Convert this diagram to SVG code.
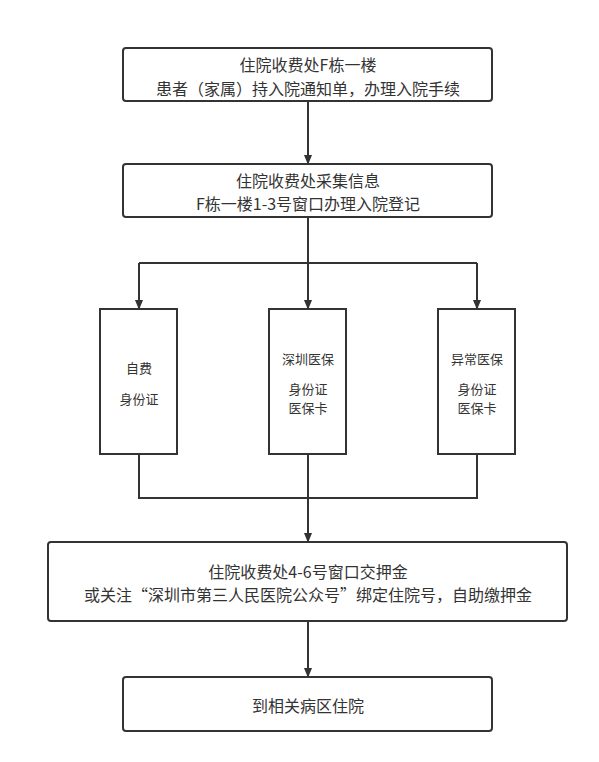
<svg xmlns="http://www.w3.org/2000/svg" width="599" height="762" viewBox="0 0 599 762">
<style>
.box{fill:#fff;stroke:#333;stroke-width:2}
.ln{fill:none;stroke:#333;stroke-width:2}
text{font-family:"Noto Sans CJK SC","Noto Sans",sans-serif;fill:#333;text-anchor:middle;dominant-baseline:central}
.t15{font-size:16px}
.t13{font-size:13px}
</style>
<defs>
<marker id="ah" markerWidth="10" markerHeight="12" refX="10" refY="5" orient="auto" markerUnits="userSpaceOnUse" viewBox="0 0 12 10">
<path d="M0,0 L12,5 L0,10 Z" fill="#333"/>
</marker>
</defs>
<rect width="599" height="762" fill="#fff"/>
<g id="connectors">
<path class="ln" d="M308,101 V163" marker-end="url(#ah)"/>
<path class="ln" d="M308,217 V263"/>
<path class="ln" d="M139,263 H477"/>
<path class="ln" d="M139,263 V308" marker-end="url(#ah)"/>
<path class="ln" d="M308,263 V308" marker-end="url(#ah)"/>
<path class="ln" d="M477,263 V308" marker-end="url(#ah)"/>
<path class="ln" d="M139,454 V498 H477 V454"/>
<path class="ln" d="M308,454 V541" marker-end="url(#ah)"/>
<path class="ln" d="M308,621 V676" marker-end="url(#ah)"/>
</g>
<g id="n1">
<rect class="box" x="123" y="48" width="369" height="53" rx="3"/>
<text class="t15" x="308" y="64">住院收费处F栋一楼</text>
<text class="t15" x="308" y="87.5">患者（家属）持入院通知单，办理入院手续</text>
</g>
<g id="n2">
<rect class="box" x="123" y="164" width="369" height="53" rx="3"/>
<text class="t15" x="308" y="179.5">住院收费处采集信息</text>
<text class="t15" x="308" y="203">F栋一楼1-3号窗口办理入院登记</text>
</g>
<g id="n3">
<rect class="box" x="100" y="309" width="77" height="145"/>
<text class="t13" x="139" y="367">自费</text>
<text class="t13" x="139" y="398">身份证</text>
</g>
<g id="n4">
<rect class="box" x="269" y="309" width="77" height="145"/>
<text class="t13" x="308" y="358">深圳医保</text>
<text class="t13" x="308" y="388.5">身份证</text>
<text class="t13" x="308" y="407.5">医保卡</text>
</g>
<g id="n5">
<rect class="box" x="438" y="309" width="77" height="145"/>
<text class="t13" x="477" y="358">异常医保</text>
<text class="t13" x="477" y="388.5">身份证</text>
<text class="t13" x="477" y="407.5">医保卡</text>
</g>
<g id="n6">
<rect class="box" x="48" y="542" width="519" height="79" rx="3"/>
<text class="t15" x="308" y="570.5">住院收费处4-6号窗口交押金</text>
<text class="t15" x="308" y="594">或关注“深圳市第三人民医院公众号”绑定住院号，自助缴押金</text>
</g>
<g id="n7">
<rect class="box" x="123" y="677" width="369" height="54" rx="3"/>
<text class="t15" x="308" y="705">到相关病区住院</text>
</g>
</svg>
